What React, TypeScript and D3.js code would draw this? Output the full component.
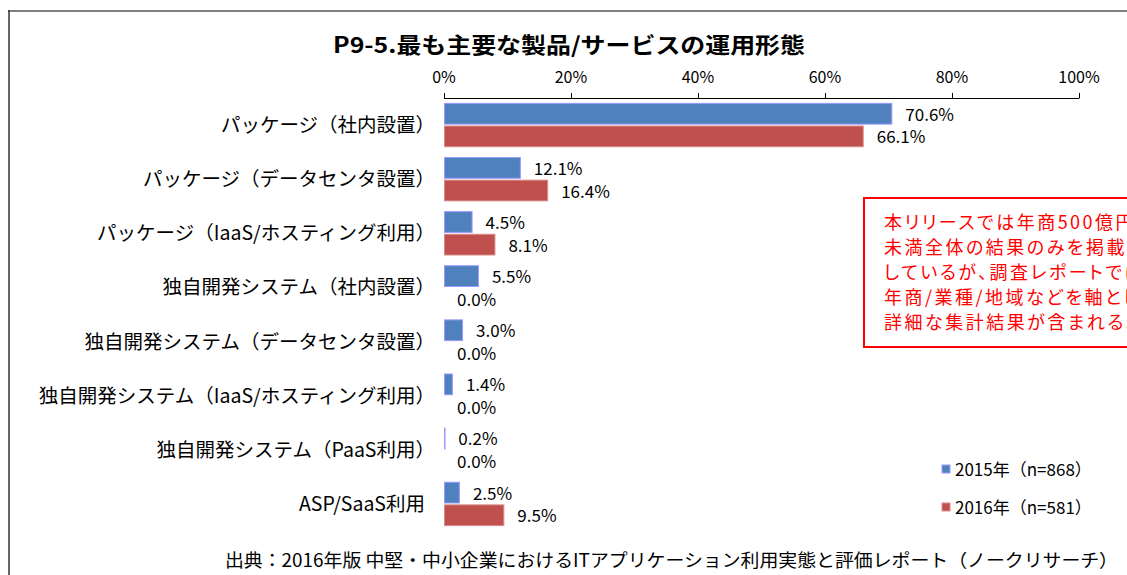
import React from "react";
import * as d3 from "d3";

const categories = [
  "パッケージ（社内設置）",
  "パッケージ（データセンタ設置）",
  "パッケージ（IaaS/ホスティング利用）",
  "独自開発システム（社内設置）",
  "独自開発システム（データセンタ設置）",
  "独自開発システム（IaaS/ホスティング利用）",
  "独自開発システム（PaaS利用）",
  "ASP/SaaS利用",
];
const series2015 = [70.6, 12.1, 4.5, 5.5, 3.0, 1.4, 0.2, 2.5];
const series2016 = [66.1, 16.4, 8.1, 0.0, 0.0, 0.0, 0.0, 9.5];
const seriesNames = ["2015年（n=868）", "2016年（n=581）"];
const ticks = [0, 20, 40, 60, 80, 100];
const title = "P9-5.最も主要な製品/サービスの運用形態";
const noteLines = [
  "本リリースでは年商500億円",
  "未満全体の結果のみを掲載",
  "しているが、調査レポートでは",
  "年商/業種/地域などを軸とした",
  "詳細な集計結果が含まれる。",
];
const source =
  "出典：2016年版 中堅・中小企業におけるITアプリケーション利用実態と評価レポート（ノークリサーチ）";

const FONT = "'Noto Sans CJK JP', 'Noto Sans', sans-serif";
const colors = ["#4f81bd", "#c0504d"];
const strokes = ["#9999ff", "#d88c8a"];

export default function App() {
  const W = 1127;
  const H = 575;
  const x = d3.scaleLinear().domain([0, 100]).range([444, 1079]);
  const y = d3
    .scaleBand<string>()
    .domain(categories)
    .range([98, 531])
    .paddingInner(0.18)
    .paddingOuter(0.09);
  const inner = d3
    .scaleBand<number>()
    .domain([0, 1])
    .range([0, y.bandwidth()])
    .paddingInner(0.04);
  const data = [series2015, series2016];

  return (
    <svg
      width={W}
      height={H}
      style={{ position: "absolute", left: 0, top: 0, background: "#fff" }}
      fontFamily={FONT}
    >
      <rect x={0} y={0} width={W} height={H} fill="#fff" />
      {/* frame */}
      <line x1={8} y1={11} x2={W} y2={11} stroke="#808080" strokeWidth={2} />
      <line x1={9} y1={10} x2={9} y2={H} stroke="#333" strokeWidth={1.5} />

      <text
        x={569}
        y={53}
        textAnchor="middle"
        fontSize={22}
        fontWeight="bold"
        fill="#000"
        textLength={472}
        lengthAdjust="spacingAndGlyphs"
      >
        {title}
      </text>

      {/* axis */}
      <line x1={x(0)} y1={98.5} x2={x(100)} y2={98.5} stroke="#000" strokeWidth={1} />
      {ticks.map((t) => (
        <g key={t}>
          <line x1={x(t) + 0.5} y1={93} x2={x(t) + 0.5} y2={98.5} stroke="#000" />
          <text x={x(t)} y={83} textAnchor="middle" fontSize={16} fill="#000">
            {t}%
          </text>
        </g>
      ))}

      {/* bars */}
      {categories.map((c, i) => (
        <g key={c}>
          <text
            x={c.endsWith("）") ? 435 : 425}
            y={(y(c) ?? 0) + y.bandwidth() / 2 + 7}
            textAnchor="end"
            fontSize={19.5}
            fill="#000"
          >
            {c}
          </text>
          {data.map((s, k) => {
            const by = (y(c) ?? 0) + (inner(k) ?? 0);
            const bh = inner.bandwidth();
            const w = x(s[i]) - x(0);
            return (
              <g key={k}>
                {s[i] > 0 && (
                  <rect
                    x={x(0) + 0.5}
                    y={by + 0.5}
                    width={Math.max(w - 1, 0.5)}
                    height={bh - 1}
                    fill={colors[k]}
                    stroke={strokes[k]}
                    strokeWidth={1}
                  />
                )}
                <text
                  x={x(s[i]) + 13}
                  y={by + bh / 2 + 7}
                  fontSize={17}
                  fill="#000"
                >
                  {s[i].toFixed(1)}%
                </text>
              </g>
            );
          })}
        </g>
      ))}

      {/* note box */}
      <rect x={864} y={198} width={300} height={149} fill="#fff" stroke="#ff0000" strokeWidth={2} />
      {noteLines.map((l, i) => (
        <text
          key={i}
          x={884}
          y={229 + i * 25}
          fontSize={18}
          fill="#ff0000"
          letterSpacing={2.5}
          style={{ fontFeatureSettings: "'palt'" }}
        >
          {l}
        </text>
      ))}

      {/* legend */}
      {seriesNames.map((n, k) => (
        <g key={n}>
          <rect
            x={942}
            y={465 + k * 38}
            width={8}
            height={8}
            fill={colors[k]}
            stroke={strokes[k]}
            strokeWidth={1}
          />
          <text x={955} y={476 + k * 38} fontSize={17} fill="#000">
            {n}
          </text>
        </g>
      ))}

      {/* source */}
      <text
        x={225}
        y={567}
        fontSize={18}
        fill="#000"
        textLength={893}
        lengthAdjust="spacingAndGlyphs"
      >
        {source}
      </text>
    </svg>
  );
}
